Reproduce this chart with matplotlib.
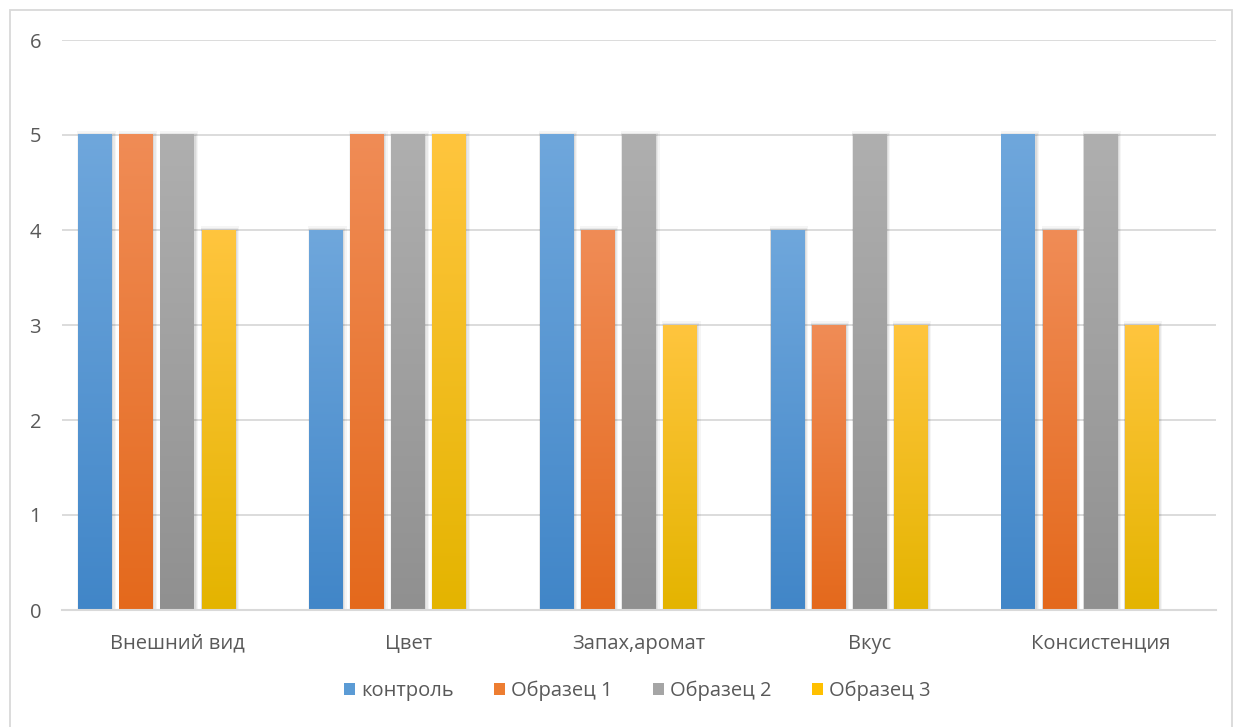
import numpy as np
import matplotlib
matplotlib.use("Agg")
import matplotlib.pyplot as plt
from matplotlib.colors import LinearSegmentedColormap
from matplotlib.patches import Rectangle

plt.rcParams['font.family'] = ['Open Sans', 'DejaVu Sans']

categories = ["Внешний вид", "Цвет", "Запах,аромат", "Вкус", "Консистенция"]
series_names = ["контроль", "Образец 1", "Образец 2", "Образец 3"]
kontrol = [5, 4, 5, 4, 5]
obrazec1 = [5, 5, 4, 3, 4]
obrazec2 = [5, 5, 5, 5, 5]
obrazec3 = [4, 5, 3, 3, 3]
series_values = [kontrol, obrazec1, obrazec2, obrazec3]

# (top, bottom) gradient colours plus flat legend colour for each series
gradients = [("#6FA7DC", "#4186C8"), ("#F08C56", "#E4691C"),
             ("#AFAFAF", "#909090"), ("#FFC53E", "#E4B400")]
legend_colors = ["#5B9BD5", "#ED7D31", "#A5A5A5", "#FFC000"]

W, H, dpi = 1233, 727, 100
fig = plt.figure(figsize=(W / dpi, H / dpi), dpi=dpi)
ax = fig.add_axes([62 / W, 1 - 610 / H, (1216 - 62) / W, (610 - 40) / H])

# outer chart frame
fig.patches.append(Rectangle((10 / W, -0.1), (1232 - 10) / W, 1.1 - 10 / H,
                             transform=fig.transFigure, fill=False,
                             edgecolor="#D9D9D9", linewidth=1.3, zorder=0))

x = np.arange(len(categories))
step = 0.178
width = 0.147
offsets = (np.arange(4) - 2) * step  # room for five slots, fifth left empty

grad = np.linspace(0, 1, 256).reshape(-1, 1)
for i, vals in enumerate(series_values):
    cmap = LinearSegmentedColormap.from_list("g%d" % i, [gradients[i][1], gradients[i][0]])
    bars = ax.bar(x + offsets[i], vals, width, color="none", zorder=3)
    for b in bars:
        x0, w, h = b.get_x(), b.get_width(), b.get_height()
        # soft drop shadow
        for k, a in enumerate([0.06, 0.05, 0.04]):
            d = 0.004 * (k + 1)
            ax.add_patch(Rectangle((x0 - d * 0.3, 0), w + d * 1.6, h + 0.02 * (k + 1) - 0.02,
                                   facecolor="black", alpha=a, linewidth=0, zorder=2))
        ax.imshow(grad, extent=(x0, x0 + w, 0, h), origin="lower", cmap=cmap,
                  aspect="auto", zorder=3, interpolation="bilinear")

ax.set_xlim(-0.5, len(categories) - 0.5)
ax.set_ylim(0, 6)
ax.set_yticks(range(7))
ax.set_xticks(x)
ax.set_xticklabels(categories)
ax.yaxis.grid(True, color="#D9D9D9", linewidth=1.3, zorder=0)
ax.set_axisbelow(True)
for s in ["top", "right", "left"]:
    ax.spines[s].set_visible(False)
ax.spines["bottom"].set_color("#D9D9D9")
ax.spines["bottom"].set_linewidth(1.5)
ax.spines["bottom"].set_zorder(4)
ax.tick_params(axis="both", length=0, labelsize=14.5, labelcolor="#595959")
ax.tick_params(axis="y", pad=15)
ax.tick_params(axis="x", pad=17)

handles = [Rectangle((0, 0), 1, 1, facecolor=c) for c in legend_colors]
fig.legend(handles, series_names, loc="center", bbox_to_anchor=(637 / W, 1 - 691 / H),
           ncol=4, frameon=False, fontsize=14.5, handlelength=0.55, handleheight=0.55,
           handletextpad=0.3, columnspacing=2.0, labelcolor="#595959")

fig.savefig("out.png", dpi=dpi, facecolor="white")
